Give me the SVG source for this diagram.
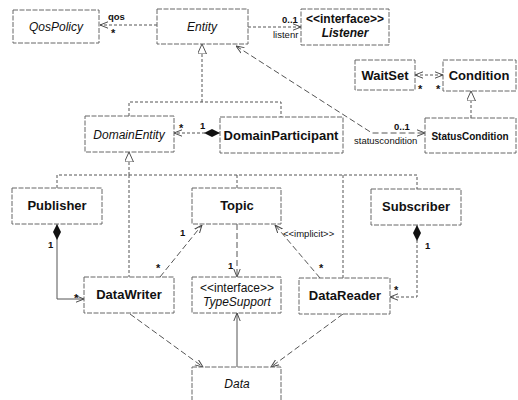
<svg xmlns="http://www.w3.org/2000/svg" width="518" height="400" viewBox="0 0 518 400">
<style>
.box{fill:#fff;stroke:#666;stroke-width:1;stroke-dasharray:5 1.5}
.t{font-family:"Liberation Sans",Arial,sans-serif;fill:#111;text-anchor:middle}
.n{font-size:13px;font-weight:bold}
.i{font-size:12px;font-style:italic}
.lb{font-family:"Liberation Sans",Arial,sans-serif;fill:#111;font-size:9.5px}
.b{font-weight:bold}
.s{font-size:11px;font-weight:bold}
.c{fill:none;stroke:#555;stroke-width:1}
.d{stroke-dasharray:3 2}
.dd{stroke-dasharray:6 3}
</style>
<defs>
<marker id="arr" viewBox="0 0 10 10" refX="10" refY="5" markerWidth="8" markerHeight="8" markerUnits="userSpaceOnUse" orient="auto-start-reverse">
<path d="M0,1 L10,5 L0,9" fill="none" stroke="#444" stroke-width="1.2"/>
</marker>
<marker id="dia" viewBox="0 0 16 8" refX="16" refY="4" markerWidth="16" markerHeight="8" markerUnits="userSpaceOnUse" orient="auto-start-reverse">
<path d="M0,4 L8,0 L16,4 L8,8 Z" fill="#111"/>
</marker>
<marker id="tri" viewBox="0 0 10 9" refX="10" refY="4.5" markerWidth="10" markerHeight="9" markerUnits="userSpaceOnUse" orient="auto">
<path d="M0,0 L10,4.5 L0,9 Z" fill="#fff" stroke="#555" stroke-width="1"/>
</marker>
</defs>

<g id="connectors">
<line class="c d" x1="157" y1="25" x2="100" y2="25" marker-end="url(#arr)"/>
<line class="c d" x1="248" y1="27" x2="301" y2="27" marker-end="url(#arr)"/>
<polyline class="c dd" points="236,46 372,133 425,133" marker-start="url(#arr)" marker-end="url(#arr)"/>
<line class="c d" x1="415" y1="75" x2="443" y2="75" marker-start="url(#arr)" marker-end="url(#arr)"/>
<line class="c d" x1="471" y1="118" x2="471" y2="91" marker-end="url(#tri)"/>
<line class="c d" x1="202" y1="102" x2="202" y2="44" marker-end="url(#tri)"/>
<polyline class="c d" points="129,116 129,102 281,102 281,117"/>
<line class="c d" x1="220" y1="133" x2="174" y2="133" marker-start="url(#dia)" marker-end="url(#arr)"/>
<line class="c d" x1="129" y1="175" x2="129" y2="152" marker-end="url(#tri)"/>
<line class="c d" x1="129" y1="175" x2="129" y2="277"/>
<polyline class="c d" points="57,188 57,175 417,175 417,189"/>
<line class="c d" x1="237" y1="175" x2="237" y2="188"/>
<line class="c d" x1="343" y1="175" x2="343" y2="278"/>
<polyline class="c" points="57,224 57,299 84,299" marker-start="url(#dia)" marker-end="url(#arr)"/>
<polyline class="c d" points="417,225 417,297 390,297" marker-start="url(#dia)" marker-end="url(#arr)"/>
<line class="c dd" x1="160" y1="277" x2="202" y2="225" marker-end="url(#arr)"/>
<line class="c dd" x1="320" y1="278" x2="275" y2="225" marker-end="url(#arr)"/>
<line class="c dd" x1="237" y1="224" x2="237" y2="277" marker-end="url(#arr)"/>
<line class="c" x1="237" y1="367" x2="237" y2="313" marker-end="url(#arr)"/>
<line class="c dd" x1="130" y1="314" x2="203" y2="367" marker-end="url(#arr)"/>
<line class="c dd" x1="343" y1="314" x2="271" y2="367" marker-end="url(#arr)"/>
</g>

<g id="labels">
<text class="lb b" x="108" y="20">qos</text>
<text class="lb s" x="111" y="37">*</text>
<text class="lb b" x="282" y="23">0..1</text>
<text class="lb" x="273" y="38">listenr</text>
<text class="lb s" x="418" y="93">*</text>
<text class="lb s" x="436" y="93">*</text>
<text class="lb b" x="394" y="130">0..1</text>
<text class="lb" x="354" y="144">statuscondition</text>
<text class="lb s" x="179" y="132">*</text>
<text class="lb b" x="200" y="129">1</text>
<text class="lb b" x="48" y="248">1</text>
<text class="lb s" x="74" y="302">*</text>
<text class="lb b" x="425" y="249">1</text>
<text class="lb s" x="394" y="294">*</text>
<text class="lb b" x="180" y="236">1</text>
<text class="lb s" x="156" y="272">*</text>
<text class="lb b" x="228" y="269">1</text>
<text class="lb s" x="319" y="272">*</text>
<text class="lb" x="283" y="237">&lt;&lt;implicit&gt;&gt;</text>
</g>

<g id="QosPolicy"><rect class="box" x="13" y="10" width="86" height="33"/><text class="t i" x="56" y="31">QosPolicy</text></g>
<g id="Entity"><rect class="box" x="157" y="9" width="91" height="35"/><text class="t i" x="202" y="31">Entity</text></g>
<g id="Listener"><rect class="box" x="301" y="9" width="88" height="36"/><text class="t b" style="font-size:12px" x="345" y="23">&lt;&lt;interface&gt;&gt;</text><text class="t b" style="font-size:12px;font-style:italic" x="345" y="37">Listener</text></g>
<g id="WaitSet"><rect class="box" x="355" y="60" width="60" height="30"/><text class="t n" x="385" y="80">WaitSet</text></g>
<g id="Condition"><rect class="box" x="443" y="60" width="73" height="31"/><text class="t n" x="479" y="80">Condition</text></g>
<g id="StatusCondition"><rect class="box" x="425" y="118" width="91" height="35"/><text class="t b" style="font-size:10px" x="470" y="140">StatusCondition</text></g>
<g id="DomainEntity"><rect class="box" x="85" y="116" width="89" height="36"/><text class="t i" x="129" y="139">DomainEntity</text></g>
<g id="DomainParticipant"><rect class="box" x="220" y="117" width="123" height="36"/><text class="t n" x="281" y="140">DomainParticipant</text></g>
<g id="Publisher"><rect class="box" x="12" y="188" width="90" height="36"/><text class="t n" x="57" y="210">Publisher</text></g>
<g id="Topic"><rect class="box" x="192" y="188" width="89" height="36"/><text class="t n" x="237" y="210">Topic</text></g>
<g id="Subscriber"><rect class="box" x="371" y="189" width="90" height="36"/><text class="t n" x="416" y="211">Subscriber</text></g>
<g id="DataWriter"><rect class="box" x="84" y="277" width="90" height="36"/><text class="t n" x="129" y="299">DataWriter</text></g>
<g id="TypeSupport"><rect class="box" x="192" y="277" width="89" height="36"/><text class="t" style="font-size:12px" x="237" y="292">&lt;&lt;interface&gt;&gt;</text><text class="t i" x="237" y="306">TypeSupport</text></g>
<g id="DataReader"><rect class="box" x="299" y="278" width="91" height="36"/><text class="t n" x="345" y="300">DataReader</text></g>
<g id="Data"><rect class="box" x="192" y="367" width="89" height="45"/><text class="t i" x="237" y="388">Data</text></g>
</svg>
